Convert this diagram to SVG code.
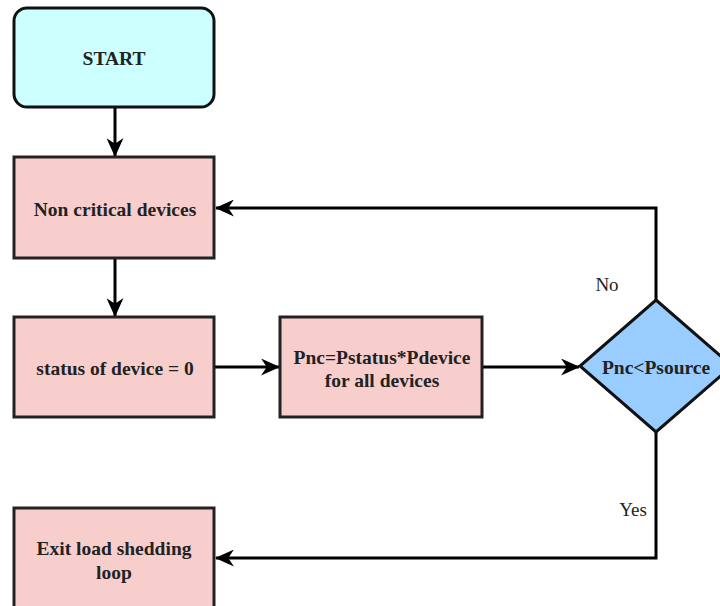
<svg xmlns="http://www.w3.org/2000/svg" width="720" height="606" viewBox="0 0 720 606">
<defs>
<marker id="arr" viewBox="0 0 20 18" refX="19" refY="9" markerWidth="19" markerHeight="17" orient="auto" markerUnits="userSpaceOnUse">
<path d="M0,0 L20,9 L0,18 L6,9 Z" fill="#000"/>
</marker>
<style>
.box{fill:#f8cecc;stroke:#222;stroke-width:3}
.start{fill:#ccffff;stroke:#111;stroke-width:3}
.dia{fill:#99ccff;stroke:#111;stroke-width:3}
.lbl{font-family:"Liberation Serif","Times New Roman",serif;font-size:19.5px;font-weight:bold;fill:#222;text-anchor:middle}
.edge{fill:none;stroke:#000;stroke-width:3;marker-end:url(#arr)}
.elbl{font-family:"Liberation Serif","Times New Roman",serif;font-size:19px;fill:#222;text-anchor:middle}
</style>
</defs>
<rect width="720" height="606" fill="#fff"/>
<g id="connectors">
<path class="edge" d="M115,107 L115,156"/>
<path class="edge" d="M115,258 L115,316"/>
<path class="edge" d="M214,367 L279,367"/>
<path class="edge" d="M482,367 L579,367"/>
<path class="edge" d="M656,300 L656,208 L216,208"/>
<path class="edge" d="M656,432 L656,558 L216,558"/>
<text class="elbl" x="607" y="291">No</text>
<text class="elbl" x="633" y="516">Yes</text>
</g>
<g id="start">
<rect class="start" x="14" y="8" width="200" height="99" rx="13"/>
<text class="lbl" x="114" y="65">START</text>
</g>
<g id="noncritical">
<rect class="box" x="14" y="157" width="200" height="101"/>
<text class="lbl" x="115" y="216">Non critical devices</text>
</g>
<g id="status">
<rect class="box" x="14" y="317" width="200" height="100"/>
<text class="lbl" x="115" y="375">status of device = 0</text>
</g>
<g id="pnc">
<rect class="box" x="280" y="317" width="202" height="100"/>
<text class="lbl" x="382" y="364">Pnc=Pstatus*Pdevice</text>
<text class="lbl" x="382" y="387">for all devices</text>
</g>
<g id="decision">
<polygon class="dia" points="656,300 732,366 656,432 580,366"/>
<text class="lbl" x="656" y="374">Pnc&lt;Psource</text>
</g>
<g id="exit">
<rect class="box" x="14" y="508" width="200" height="110"/>
<text class="lbl" x="114" y="555">Exit load shedding</text>
<text class="lbl" x="114" y="579">loop</text>
</g>
</svg>
